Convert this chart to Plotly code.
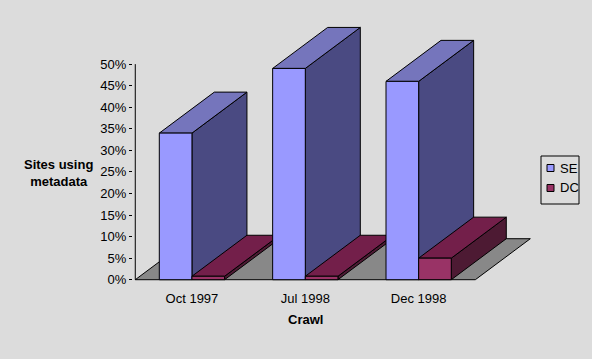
import plotly.graph_objects as go

# ---- data ----
categories = ["Oct 1997", "Jul 1998", "Dec 1998"]
series_names = ["SE", "DC"]
se_values = [34, 49, 46]
dc_values = [0.8, 0.8, 5]
y_ticks = [0, 5, 10, 15, 20, 25, 30, 35, 40, 45, 50]

# ---- style ----
BG = "#DCDCDC"
FLOOR = "#888888"
COLORS = {
    "SE": {"front": "#9999FF", "top": "#7575BC", "side": "#4A4A82"},
    "DC": {"front": "#993366", "top": "#731F4A", "side": "#4D1A33"},
}
FONT = "Liberation Sans, Arial, sans-serif"

W, H = 592, 359
ML, MR, MT, MB = 133, 60, 21, 78
XR = [-0.52, 3.0]
YR = [-0.3, 60]
PW = W - ML - MR
PH = H - MT - MB
px_per_x = PW / (XR[1] - XR[0])
px_per_y = PH / (YR[1] - YR[0])
DX = 55 / px_per_x       # depth offset (3D look), data units
DY = 41 / px_per_y
BAR_W = 0.288

fig = go.Figure()


def poly(xs, ys, color):
    fig.add_trace(go.Scatter(
        x=xs + [xs[0]], y=ys + [ys[0]], mode="lines", fill="toself",
        fillcolor=color, line=dict(color="black", width=1),
        hoverinfo="skip", showlegend=False))


# floor
n = len(categories)
fx0, fx1 = -0.5, n - 0.5
poly([fx0, fx1, fx1 + DX, fx0 + DX], [0, 0, DY, DY], FLOOR)


def bar(x0, x1, h, c):
    poly([x1, x1 + DX, x1 + DX, x1], [0, DY, h + DY, h], c["side"])
    poly([x0, x1, x1 + DX, x0 + DX], [h, h, h + DY, h + DY], c["top"])
    poly([x0, x1, x1, x0], [0, 0, h, h], c["front"])


for i in range(n):
    bar(i - BAR_W, i, se_values[i], COLORS["SE"])
    bar(i, i + BAR_W, dc_values[i], COLORS["DC"])

# value axis line (0 .. 50%)
fig.add_trace(go.Scatter(x=[-0.5, -0.5], y=[0, y_ticks[-1]], mode="lines",
                         line=dict(color="black", width=1),
                         hoverinfo="skip", showlegend=False))

fig.update_layout(
    width=W, height=H,
    margin=dict(l=ML, r=MR, t=MT, b=MB, pad=0),
    paper_bgcolor=BG, plot_bgcolor=BG,
    showlegend=False,
    font=dict(family=FONT, size=13, color="black"),
    xaxis=dict(range=XR, showgrid=False, zeroline=False, showline=False,
               tickvals=list(range(n)), ticktext=categories,
               ticks="outside", ticklen=5, tickcolor="rgba(0,0,0,0)",
               fixedrange=True),
    yaxis=dict(range=YR, showgrid=False, zeroline=False, showline=False,
               tickvals=y_ticks, ticktext=[f"{v}%" for v in y_ticks],
               ticks="outside", ticklen=3, tickcolor="black", tickwidth=1,
               fixedrange=True),
)


def pxx(p):
    return (p - ML) / PW


def pxy(p):
    return (H - MB - p) / PH


fig.add_annotation(text="<b>Sites using<br>metadata</b>", xref="paper", yref="paper",
                   x=pxx(58), y=pxy(173), showarrow=False, xanchor="center",
                   yanchor="middle", font=dict(size=13, family=FONT))
fig.add_annotation(text="<b>Crawl</b>", xref="x", yref="paper",
                   x=(n - 1) / 2, y=pxy(319), showarrow=False,
                   xanchor="center", yanchor="middle",
                   font=dict(size=13, family=FONT))

# legend box
fig.add_shape(type="rect", xref="paper", yref="paper",
              x0=pxx(541), x1=pxx(579), y0=pxy(204), y1=pxy(156),
              line=dict(color="black", width=1), fillcolor=BG, layer="above")
for k, name in enumerate(series_names):
    cy = 168 + 20 * k
    fig.add_shape(type="rect", xref="paper", yref="paper",
                  x0=pxx(547), x1=pxx(554), y0=pxy(cy + 3.5), y1=pxy(cy - 3.5),
                  line=dict(color="black", width=1),
                  fillcolor=COLORS[name]["front"], layer="above")
    fig.add_annotation(text=name, xref="paper", yref="paper",
                       x=pxx(558), y=pxy(cy), showarrow=False,
                       xanchor="left", yanchor="middle",
                       font=dict(size=13, family=FONT))

fig.write_html("out.html")
